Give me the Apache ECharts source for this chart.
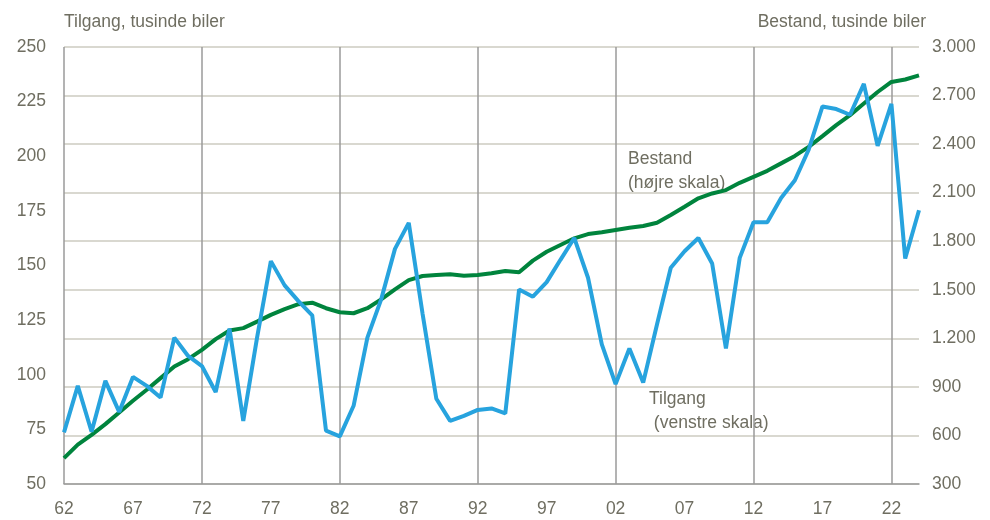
<!DOCTYPE html>
<html>
<head>
<meta charset="utf-8">
<script src="https://cdn.jsdelivr.net/npm/echarts@6/dist/echarts.min.js"></script>
<style>
html,body{margin:0;padding:0;background:#fff;}
#c{width:990px;height:520px;}
</style>
</head>
<body>
<div id="c"></div>
<script>
const years = [];
for (let y = 1962; y <= 2024; y++) years.push(String(y));

// Tilgang (left axis), thousand cars
const tilgang = [73.6,94.9,73.9,97.2,83.0,99.0,94.9,89.6,117.0,108.6,
  104.0,92.1,121.1,78.9,117.0,152.0,140.9,133.7,127.2,74.4,
  71.8,85.8,117.0,134.5,157.6,169.5,128.0,89.0,78.9,81.2,
  83.9,84.6,82.3,139.0,135.7,142.4,152.6,162.6,144.4,113.9,
  95.7,112.0,96.4,123.0,149.0,156.5,162.6,150.9,112.0,153.5,
  169.8,169.8,180.9,189.0,203.0,222.8,221.6,219.0,233.1,204.8,
  224.0,153.2,175.3];

// Bestand (right axis), thousand cars
const bestand = [460,543,604,670,742,814,882,954,1026,1071,
  1129,1195,1248,1263,1303,1345,1380,1411,1420,1386,
  1361,1355,1386,1441,1503,1560,1585,1591,1596,1587,
  1591,1602,1616,1608,1680,1735,1777,1818,1844,1855,
  1869,1883,1894,1914,1962,2013,2065,2095,2116,2161,
  2198,2235,2281,2327,2383,2449,2517,2579,2651,2722,
  2784,2799,2825];

const leftTicks = {min: 50, max: 250, step: 25};
const rightTicks = {min: 300, max: 3000, step: 300};

const txt = '#6f6e61';
const font = '"Liberation Sans",Arial,sans-serif';
const fs = 17.5;

const chart = echarts.init(document.getElementById('c'));
chart.setOption({
  animation: false,
  backgroundColor: '#fff',
  grid: {left: 64, right: 71, top: 47, bottom: 36, containLabel: false},
  xAxis: {
    type: 'category',
    data: years,
    boundaryGap: false,
    axisLine: {show: true, lineStyle: {color: '#9a9a9a', width: 1.5}},
    axisTick: {show: false},
    axisLabel: {
      interval: 4, margin: 16, color: txt, fontFamily: font, fontSize: fs,
      formatter: v => v.slice(2)
    },
    splitLine: {
      show: true,
      interval: (i) => i % 10 === 0,
      lineStyle: {color: '#9a9a9a', width: 1.5}
    }
  },
  yAxis: [
    {
      type: 'value', position: 'left',
      min: leftTicks.min, max: leftTicks.max, interval: leftTicks.step,
      axisLine: {show: false}, axisTick: {show: false},
      splitLine: {show: false},
      axisLabel: {color: txt, fontFamily: font, fontSize: fs, margin: 18}
    },
    {
      type: 'value', position: 'right',
      min: rightTicks.min, max: rightTicks.max, interval: rightTicks.step,
      axisLine: {show: false}, axisTick: {show: false},
      splitLine: {show: true, lineStyle: {color: '#cdcbc1', width: 1.5}},
      axisLabel: {
        color: txt, fontFamily: font, fontSize: fs, margin: 13,
        formatter: v => v >= 1000 ? Math.floor(v/1000) + '.' + String(v%1000).padStart(3,'0') : String(v)
      }
    }
  ],
  series: [
    {
      name: 'Bestand', type: 'line', yAxisIndex: 1, data: bestand,
      symbol: 'none', lineStyle: {color: '#00843d', width: 4}, z: 2
    },
    {
      name: 'Tilgang', type: 'line', yAxisIndex: 0, data: tilgang,
      symbol: 'none', lineStyle: {color: '#27a3de', width: 4}, z: 3
    }
  ],
  graphic: [
    {type: 'text', left: 64, top: 13, style: {text: 'Tilgang, tusinde biler', fill: txt, font: fs + 'px ' + font}},
    {type: 'text', right: 64, top: 13, style: {text: 'Bestand, tusinde biler', fill: txt, font: fs + 'px ' + font}},
    {type: 'text', left: 628, top: 147, style: {text: 'Bestand\n(højre skala)', fill: txt, font: fs + 'px ' + font, lineHeight: 24}},
    {type: 'text', left: 649, top: 387, style: {text: 'Tilgang\n (venstre skala)', fill: txt, font: fs + 'px ' + font, lineHeight: 24}}
  ]
});
</script>
</body>
</html>
